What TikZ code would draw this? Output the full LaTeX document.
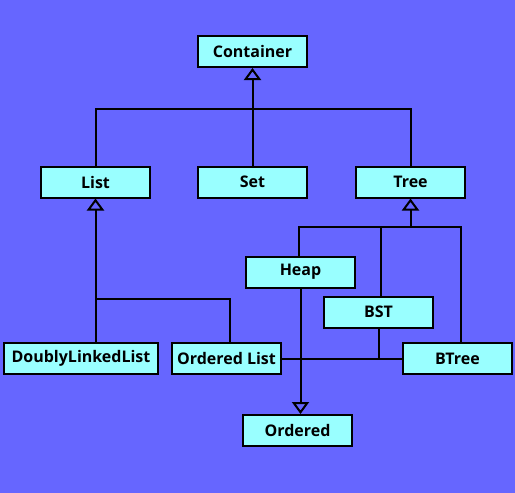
\documentclass[tikz,border=0pt]{standalone}
\usepackage{fontspec}
\setmainfont{Open Sans}
\usepackage{tikz}
\usetikzlibrary{arrows.meta}
\usepackage{xcolor}
\definecolor{bgblue}{HTML}{6666FF}
\definecolor{boxcyan}{HTML}{99FFFF}

\begin{document}
\begin{tikzpicture}[x=1pt, y=-1pt,
  cls/.style={draw=black, fill=boxcyan, line width=2pt, minimum width=109pt, minimum height=31pt, inner sep=0pt, font=\fontsize{16}{18}\selectfont\bfseries},
  link/.style={black, line width=2pt},
  isa/.style={link, -{Triangle[open, width=17pt, length=12pt, line width=2pt]}}]
\fill[bgblue] (0,0) rectangle (515,493);
\node[cls] (container) at (252.5,51.5) {Container};
\node[cls] (list) at (95.5,182) {List};
\node[cls] (set) at (252.5,182) {Set};
\node[cls] (tree) at (410.5,182) {Tree};
\node[cls] (heap) at (300.5,272) {Heap};
\node[cls] (bst) at (378.5,312) {BST};
\node[cls, minimum width=154pt] (dll) at (81,358.5) {DoublyLinkedList};
\node[cls] (olist) at (226.5,358.5) {Ordered List};
\node[cls] (btree) at (457.5,358.5) {BTree};
\node[cls] (ordered) at (297.5,430.5) {Ordered};
\coordinate (cbus) at (252.5,109);
\coordinate (lbus) at (95.5,299);
\coordinate (tbus) at (410.5,227);
% container
\draw[link] (list.north) |- (cbus) -| (tree.north);
\draw[isa] (set.north) -- (container.south);
% list
\draw[isa] (dll.north -| list.south) -- (list.south);
\draw[link] ([xshift=3.5pt]olist.north) |- (lbus);
% tree
\draw[link] ([xshift=-1.5pt]heap.north) |- (tbus) -| ([xshift=3.5pt]btree.north);
\draw[link] ([xshift=2.5pt]bst.north) -- ([xshift=2.5pt]bst.north |- tbus);
\draw[isa] (tbus) -- (tree.south);
% ordered
\draw[link] (olist.east) -- (btree.west);
\draw[link] (bst.south) -- (bst.south |- btree.west);
\draw[isa] (heap.south) -- (heap.south |- ordered.north);
\end{tikzpicture}
\end{document}
